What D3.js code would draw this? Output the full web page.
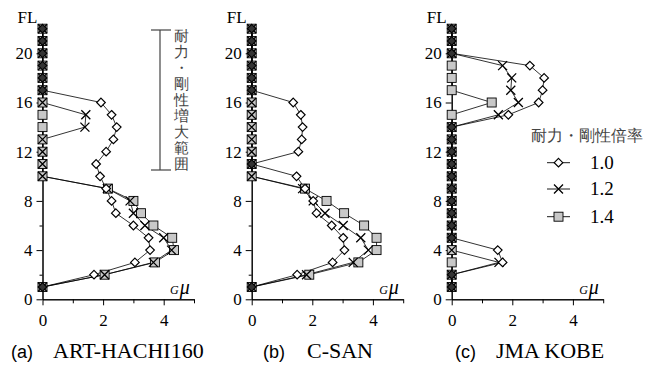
<!DOCTYPE html>
<html>
<head>
<meta charset="utf-8">
<script src="https://d3js.org/d3.v7.min.js"></script>
<style>
    body { margin: 0; }
    text.serif { font-family: "Liberation Serif", "Times New Roman", Tinos, serif; }
    text.gothic { font-family: sans-serif; }
</style>
</head>
<body>
<script>

    // floor numbers (categories)
    let floors = [1,2,3,4,5,6,7,8,9,10,11,12,13,14,15,16,17,18,19,20,21,22];
    let ratios = ["1.0", "1.2", "1.4"];
    let yTicks = [0, 4, 8, 12, 16, 20];
    let yMinor = [2, 6, 10, 14, 18];
    let xTicks = [0, 2, 4];
    let xMinor = [1, 3, 5];

    // (a) ART-HACHI160
    let a10 = [0,1.7,3.05,3.55,3.5,3.0,2.42,2.28,2.1,1.9,1.77,2.1,2.34,2.45,2.28,1.93,0,0,0,0,0,0];
    let a12 = [0,2.05,3.66,4.26,4.0,3.38,3.0,2.89,2.14,0,0,0,0,1.4,1.43,0,0,0,0,0,0,0];
    let a14 = [0,2.05,3.71,4.34,4.28,3.66,3.25,3.0,2.16,0,0,0,0,0,0,0,0,0,0,0,0,0];
    // (b) C-SAN
    let b10 = [0,1.5,2.67,3.06,3.02,2.64,2.14,2.03,1.76,1.48,0,1.54,1.65,1.68,1.62,1.37,0,0,0,0,0,0];
    let b12 = [0,1.81,3.35,3.85,3.6,3.02,2.42,2.03,1.68,0,0,0,0,0,0,0,0,0,0,0,0,0];
    let b14 = [0,1.9,3.52,4.12,4.12,3.71,3.05,2.47,1.76,0,0,0,0,0,0,0,0,0,0,0,0,0];
    // (c) JMA KOBE
    let c10 = [0,0,1.68,1.52,0,0,0,0,0,0,0,0,0,0,1.87,2.87,3.0,3.05,2.58,0,0,0];
    let c12 = [0,0,1.56,0,0,0,0,0,0,0,0,0,0,0,1.54,2.2,1.95,1.98,1.68,0,0,0];
    let c14 = [0,0,0,0,0,0,0,0,0,0,0,0,0,0,0,1.32,0,0,0,0,0,0];

    let panels = [
        {x0: 42.5,  tag: "(a)", name: "ART-HACHI160", tagX: 11,  nameX: 53,  series: [a10, a12, a14]},
        {x0: 251.7, tag: "(b)", name: "C-SAN",        tagX: 263, nameX: 307, series: [b10, b12, b14]},
        {x0: 451.7, tag: "(c)", name: "JMA KOBE",     tagX: 455, nameX: 496, series: [c10, c12, c14]}
    ];

    let svg = d3.select("body").append("svg")
        .attr("width", 656)
        .attr("height", 370);

    let y = d3.scaleLinear().domain([0, 22]).range([299.3, 28.7]);

    function drawMarker(g, kind, cx, cy, zero) {
        if (kind === 2) {
            g.append("rect")
                .attr("x", cx - 4.5).attr("y", cy - 4.5)
                .attr("width", 9).attr("height", 9)
                .attr("fill", "#c8c8c8").attr("stroke", "#000").attr("stroke-width", 0.9);
        } else if (kind === 1) {
            g.append("path")
                .attr("d", `M${cx-4.5},${cy-4.5}L${cx+4.5},${cy+4.5}M${cx-4.5},${cy+4.5}L${cx+4.5},${cy-4.5}`)
                .attr("stroke", "#000").attr("stroke-width", 1.3).attr("fill", "none");
        } else {
            g.append("path")
                .attr("d", `M${cx},${cy-4.3}L${cx+4.3},${cy}L${cx},${cy+4.3}L${cx-4.3},${cy}Z`)
                .attr("fill", zero ? "#333" : "#fff").attr("stroke", "#000").attr("stroke-width", 1.2);
        }
    }

    panels.forEach(p => {
        let x = d3.scaleLinear().domain([0, 5]).range([p.x0, p.x0 + 151.5]);
        let g = svg.append("g");

        // axes
        g.append("g").attr("transform", `translate(0,${y(0)})`)
            .call(d3.axisBottom(x).tickValues(xTicks).tickSize(6).tickSizeOuter(0).tickPadding(9).tickFormat(d3.format("d")));
        g.append("g").attr("transform", `translate(0,${y(0)})`)
            .call(d3.axisBottom(x).tickValues(xMinor).tickSize(4).tickSizeOuter(0).tickFormat(""));
        g.append("g").attr("transform", `translate(${p.x0},0)`)
            .call(d3.axisLeft(y).tickValues(yTicks).tickSize(6).tickSizeOuter(0).tickPadding(4).tickFormat(d3.format("d")));
        g.append("g").attr("transform", `translate(${p.x0},0)`)
            .call(d3.axisLeft(y).tickValues(yMinor).tickSize(3).tickSizeOuter(0).tickFormat(""));
        g.selectAll(".domain, .tick line").attr("stroke", "#000").attr("stroke-width", 1);
        g.selectAll(".tick text").attr("class", "serif").attr("font-size", 17).attr("fill", "#000");

        g.append("text").attr("class", "serif").attr("x", p.x0 - 25).attr("y", 23)
            .attr("font-size", 17).text("FL");

        let lbl = g.append("text").attr("class", "serif").attr("x", p.x0 + 127.5).attr("y", 294)
            .attr("font-style", "italic");
        lbl.append("tspan").attr("font-size", 12).text("G");
        lbl.append("tspan").attr("font-size", 20).attr("dx", 1).text("μ");

        // lines
        let line = d3.line().x(d => x(d[0])).y(d => y(d[1]));
        p.series.forEach(s => {
            g.append("path")
                .datum(s.map((v, i) => [v, floors[i]]))
                .attr("d", line)
                .attr("fill", "none").attr("stroke", "#000").attr("stroke-width", 0.8);
        });

        // markers: squares below, crosses, diamonds on top
        [2, 1, 0].forEach(k => {
            p.series[k].forEach((v, i) => drawMarker(g, k, x(v), y(floors[i]), v === 0));
        });

        // caption
        g.append("text").attr("class", "gothic").attr("x", p.tagX).attr("y", 358)
            .attr("font-size", 18).text(p.tag);
        g.append("text").attr("class", "serif").attr("x", p.nameX).attr("y", 358)
            .attr("font-size", 22).text(p.name);
    });

    // range bracket in panel (a)
    let br = svg.append("g").attr("stroke", "#444").attr("stroke-width", 1.2);
    br.append("line").attr("x1", 160).attr("x2", 160).attr("y1", 30).attr("y2", 170);
    br.append("line").attr("x1", 151).attr("x2", 171).attr("y1", 30).attr("y2", 30);
    br.append("line").attr("x1", 151).attr("x2", 171).attr("y1", 170).attr("y2", 170);
    // vertical label, one character per line
    let vt = svg.append("text").attr("class", "gothic")
        .attr("font-size", 15).attr("fill", "#444")
        .attr("text-anchor", "middle");
    Array.from("耐力・剛性増大範囲").forEach((ch, i) => {
        vt.append("tspan").attr("x", 181).attr("y", 41 + i * 16).text(ch);
    });

    // legend
    let lg = svg.append("g");
    lg.append("text").attr("class", "gothic").attr("x", 531).attr("y", 141)
        .attr("font-size", 16).attr("fill", "#444")
        .text("耐力・剛性倍率");
    let legY = [162.7, 189, 216.7];
    [0, 1, 2].forEach(k => {
        lg.append("line").attr("x1", 547).attr("x2", 570)
            .attr("y1", legY[k]).attr("y2", legY[k])
            .attr("stroke", "#000").attr("stroke-width", 0.9);
        drawMarker(lg, k, 558.5, legY[k], false);
        lg.append("text").attr("class", "serif").attr("x", 590).attr("y", legY[k] + 6)
            .attr("font-size", 19)
            .text(ratios[k]);
    });

</script>
</body>
</html>
